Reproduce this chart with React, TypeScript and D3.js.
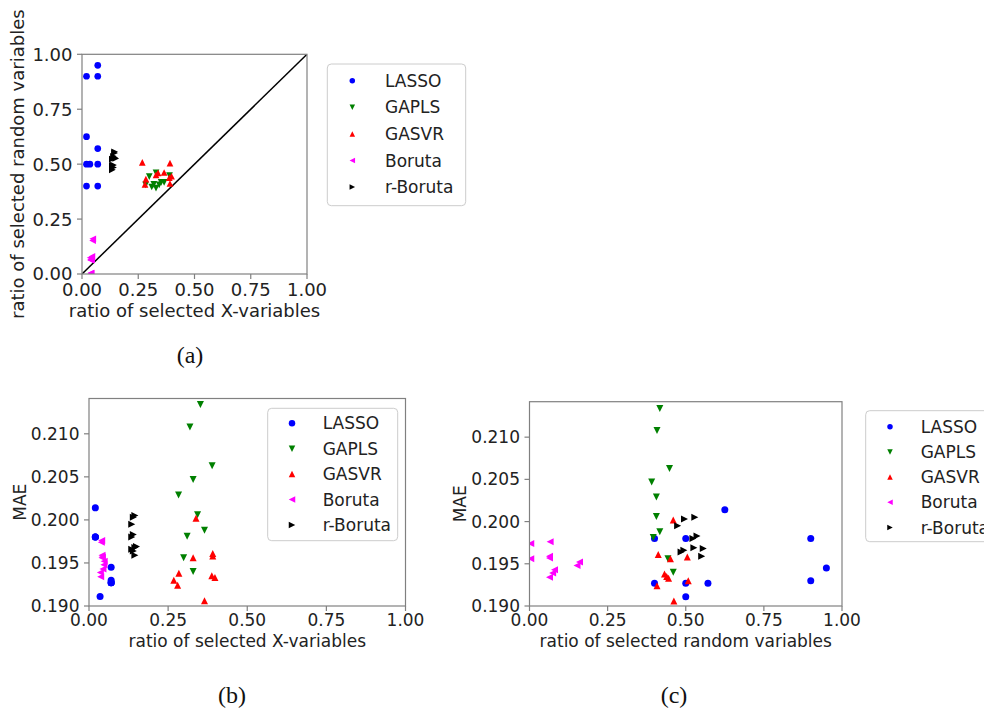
import React from 'react';
import * as d3 from 'd3';

const methods = ['LASSO', 'GAPLS', 'GASVR', 'Boruta', 'r-Boruta'];
const colors = ['#0000ff', '#008000', '#ff0000', '#ff00ff', '#000000'];
const shapes = ['circle', 'down', 'up', 'left', 'right'];

// ratio of selected X-variables
const lassoX = [0.02, 0.02, 0.02, 0.02, 0.07, 0.07, 0.07, 0.07, 0.07, 0.035];
const gaplsX = [0.352, 0.319, 0.389, 0.329, 0.283, 0.343, 0.365, 0.31, 0.299, 0.329];
const gasvrX = [0.338, 0.391, 0.391, 0.329, 0.284, 0.388, 0.398, 0.268, 0.28, 0.365];
const borutaX = [0.039, 0.04, 0.041, 0.041, 0.042, 0.048, 0.047, 0.044, 0.036, 0.037];
const rBorutaX = [0.14, 0.145, 0.135, 0.14, 0.135, 0.145, 0.15, 0.135, 0.14, 0.145];

// ratio of selected random variables
const lassoRand = [0.625, 0.4, 0.5, 0.9, 0.95, 0.9, 0.4, 0.5, 0.571, 0.5];
const gaplsRand = [0.417, 0.408, 0.448, 0.391, 0.406, 0.406, 0.417, 0.396, 0.443, 0.46];
const gasvrRand = [0.46, 0.412, 0.505, 0.451, 0.432, 0.439, 0.445, 0.508, 0.408, 0.462];
const borutaRand = [0.004, 0.066, 0.004, 0.064, 0.064, 0.16, 0.152, 0.08, 0.074, 0.064];
const rBorutaRand = [0.496, 0.529, 0.474, 0.536, 0.523, 0.556, 0.526, 0.494, 0.485, 0.551];

// MAE
const lassoMae = [0.2014, 0.198, 0.198, 0.198, 0.1945, 0.193, 0.1927, 0.1927, 0.1927, 0.1911];
const gaplsMae = [0.2134, 0.2108, 0.2063, 0.2047, 0.2029, 0.2006, 0.1988, 0.1981, 0.1956, 0.194];
const gasvrMae = [0.2002, 0.1961, 0.1958, 0.1956, 0.1938, 0.1935, 0.1933, 0.193, 0.1924, 0.1906];
const borutaMae = [0.1974, 0.1976, 0.1956, 0.1959, 0.1957, 0.1952, 0.1948, 0.1943, 0.1939, 0.1934];
const rBorutaMae = [0.2003, 0.2005, 0.1995, 0.1983, 0.198, 0.1968, 0.1969, 0.1966, 0.1964, 0.1959];

const ratioTicks = [0, 0.25, 0.5, 0.75, 1];
const maeTicks = [0.19, 0.195, 0.2, 0.205, 0.21];

const xRatio = [lassoX, gaplsX, gasvrX, borutaX, rBorutaX];
const randRatio = [lassoRand, gaplsRand, gasvrRand, borutaRand, rBorutaRand];
const maeVals = [lassoMae, gaplsMae, gasvrMae, borutaMae, rBorutaMae];

type Pt = { xr: number; rr: number; mae: number };
const series = methods.map((name, i) => ({
  name,
  color: colors[i],
  shape: shapes[i],
  pts: xRatio[i].map((v, j): Pt => ({ xr: v, rr: randRatio[i][j], mae: maeVals[i][j] }))
}));

const FONT = 'DejaVu Sans, sans-serif';
const SPINE = '#808080';

function markerPath (shape: string, s: number) {
  const h = s / 2;
  if (shape === 'circle') return d3.symbol(d3.symbolCircle, Math.PI * h * h)() as string;
  const pts: Record<string, [number, number][]> = {
    up: [[0, -h], [-h, h], [h, h]],
    down: [[0, h], [-h, -h], [h, -h]],
    left: [[-h, 0], [h, -h], [h, h]],
    right: [[h, 0], [-h, -h], [-h, h]]
  };
  return d3.line()(pts[shape]) + 'Z';
}

type PanelProps = {
  id: string;
  box: [number, number, number, number];
  xKey: 'xr' | 'rr';
  yKey: 'rr' | 'mae';
  yDomain: [number, number];
  yTicks: number[];
  yFmt: string;
  fs: number;
  xLabel: string;
  xLabelY: number;
  yLabel: string;
  yLabelX: number;
  caption: string;
  captionX: number;
  captionY: number;
  ms: number;
  diagonal?: boolean;
  legend: { x: number; y: number; w: number; h: number; mx: number; tx: number; y0: number; step: number; ms: number };
};

function Panel (p: PanelProps) {
  const [l, t, r, b] = p.box;
  const x = d3.scaleLinear().domain([0, 1]).range([l, r]);
  const y = d3.scaleLinear().domain(p.yDomain).range([b, t]);
  const fmtX = d3.format('.2f');
  const fmtY = d3.format(p.yFmt);
  const lg = p.legend;
  return (
    <g>
      <defs>
        <clipPath id={'clip-' + p.id}>
          <rect x={l} y={t} width={r - l} height={b - t} />
        </clipPath>
      </defs>
      {p.diagonal && (
        <line x1={x(0)} y1={y(0)} x2={x(1)} y2={y(1)} stroke='#000' strokeWidth={1.5} clipPath={`url(#clip-${p.id})`} />
      )}
      <g clipPath={`url(#clip-${p.id})`}>
        {series.map(s => (
          <g key={s.name} fill={s.color}>
            {s.pts.map((d, j) => (
              <path key={j} d={markerPath(s.shape, p.ms)} transform={`translate(${x(d[p.xKey])},${y(d[p.yKey])})`} />
            ))}
          </g>
        ))}
      </g>
      <rect x={l} y={t} width={r - l} height={b - t} fill='none' stroke={SPINE} strokeWidth={1.2} />
      {ratioTicks.map(v => (
        <g key={'x' + v}>
          <line x1={x(v)} x2={x(v)} y1={b} y2={b + 5} stroke={SPINE} strokeWidth={1.2} />
          <text x={x(v)} y={b + p.fs * 1.2} textAnchor='middle' fontSize={p.fs} fontFamily={FONT} fill='#222'>{fmtX(v)}</text>
        </g>
      ))}
      {p.yTicks.map(v => (
        <g key={'y' + v}>
          <line x1={l - 5} x2={l} y1={y(v)} y2={y(v)} stroke={SPINE} strokeWidth={1.2} />
          <text x={l - 9.5} y={y(v)} dy='0.36em' textAnchor='end' fontSize={p.fs} fontFamily={FONT} fill='#222'>{fmtY(v)}</text>
        </g>
      ))}
      <text x={(l + r) / 2} y={p.xLabelY} textAnchor='middle' fontSize={p.fs} fontFamily={FONT} fill='#222'>{p.xLabel}</text>
      <text transform={`translate(${p.yLabelX},${(t + b) / 2}) rotate(-90)`} dy='0.36em' textAnchor='middle' fontSize={p.fs} fontFamily={FONT} fill='#222'>{p.yLabel}</text>
      <text x={p.captionX} y={p.captionY} textAnchor='middle' fontSize={24} fontFamily='Liberation Serif, serif' fill='#111'>{p.caption}</text>
      {/* legend */}
      <rect x={lg.x} y={lg.y} width={lg.w} height={lg.h} rx={4} fill='#fff' fillOpacity={0.8} stroke='#cccccc' strokeWidth={1} />
      {series.map((s, i) => (
        <g key={'lg' + s.name}>
          <path d={markerPath(s.shape, lg.ms)} fill={s.color} transform={`translate(${lg.mx},${lg.y0 + i * lg.step})`} />
          <text x={lg.tx} y={lg.y0 + i * lg.step} dy='0.36em' fontSize={17} fontFamily={FONT} fill='#222'>{s.name}</text>
        </g>
      ))}
    </g>
  );
}

export default function App () {
  return (
    <svg width={984} height={712} style={{ position: 'absolute', left: 0, top: 0, background: '#fff' }}>
      <Panel
        id='a'
        box={[82, 54.3, 307, 274]}
        xKey='xr'
        yKey='rr'
        yDomain={[0, 1]}
        yTicks={ratioTicks}
        yFmt='.2f'
        fs={18}
        xLabel='ratio of selected X-variables'
        xLabelY={317}
        yLabel='ratio of selected random variables'
        yLabelX={18}
        caption='(a)'
        captionX={190}
        captionY={363}
        ms={6.7}
        diagonal
        legend={{ x: 327.3, y: 64, w: 138.4, h: 141.7, mx: 352.3, tx: 385, y0: 80.7, step: 26.6, ms: 5.5 }}
      />
      <Panel
        id='b'
        box={[89, 398.5, 405.5, 606]}
        xKey='xr'
        yKey='mae'
        yDomain={[0.19, 0.2141]}
        yTicks={maeTicks}
        yFmt='.3f'
        fs={17}
        xLabel='ratio of selected X-variables'
        xLabelY={647}
        yLabel='MAE'
        yLabelX={20}
        caption='(b)'
        captionX={232}
        captionY={703}
        ms={7}
        legend={{ x: 267.7, y: 408.3, w: 130, h: 132.4, mx: 292, tx: 322.7, y0: 423.3, step: 25.4, ms: 6.5 }}
      />
      <Panel
        id='c'
        box={[529.5, 401.7, 842, 606]}
        xKey='rr'
        yKey='mae'
        yDomain={[0.19, 0.2142]}
        yTicks={maeTicks}
        yFmt='.3f'
        fs={17}
        xLabel='ratio of selected random variables'
        xLabelY={647}
        yLabel='MAE'
        yLabelX={460}
        caption='(c)'
        captionX={674}
        captionY={703}
        ms={7}
        legend={{ x: 865.7, y: 410.7, w: 140, h: 131, mx: 890, tx: 920.7, y0: 426.7, step: 25.2, ms: 5.5 }}
      />
    </svg>
  );
}
